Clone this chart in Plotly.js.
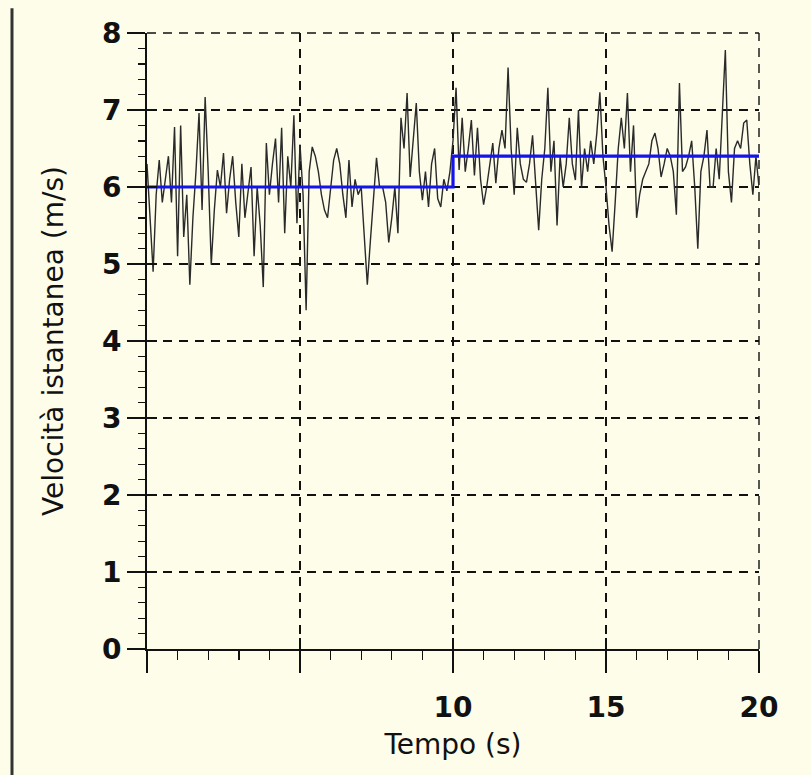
<!DOCTYPE html>
<html>
<head>
<meta charset="utf-8">
<script src="https://cdn.plot.ly/plotly-3.0.1.min.js"></script>
<style>html,body{margin:0;padding:0;background:#fdfdea;}</style>
</head>
<body>
<div id="chart" style="width:811px;height:775px;"></div>
<script>
// Instantaneous speed sampled every 0.1 s from t = 0 to t = 20 s
const sampleStart = 0;
const sampleStep = 0.1;
const speed = [
  6.3, 5.6, 4.9, 5.9, 6.35, 5.8, 6.1, 6.4, 5.8, 6.78,
  5.1, 6.8, 5.35, 5.9, 4.73, 5.6, 6.2, 6.96, 5.7, 7.17,
  6.2, 4.99, 5.7, 6.22, 6.0, 6.44, 5.66, 6.1, 6.4, 5.8,
  5.35, 6.3, 5.6, 5.9, 6.26, 5.1, 6.0, 5.5, 4.7, 6.57,
  5.9, 6.3, 6.63, 5.8, 6.77, 5.4, 6.4, 6.0, 6.93, 5.53,
  6.55, 5.9, 4.4, 6.2, 6.52, 6.4, 6.2, 5.9, 5.7, 5.6,
  6.0, 6.35, 6.5, 6.3, 5.9, 5.6, 6.35, 5.74, 6.1, 5.9,
  6.0, 5.4, 4.73, 5.3, 5.9, 6.38, 6.0, 6.0, 5.8, 5.28,
  5.6, 6.0, 5.4, 6.9, 6.5, 7.22, 6.13, 6.6, 7.09, 6.2,
  5.83, 6.2, 5.74, 6.3, 6.5, 5.85, 5.74, 6.1, 5.95, 6.2,
  6.6, 7.29, 6.22, 6.9, 6.2, 6.5, 6.87, 6.15, 6.77, 6.1,
  5.77, 6.0, 6.3, 6.57, 6.05, 6.5, 6.74, 6.5, 7.55, 6.5,
  5.9, 6.77, 6.3, 6.1, 6.06, 6.3, 6.67, 6.0, 5.44, 6.1,
  6.5, 7.29, 6.2, 6.6, 5.5, 6.4, 6.0, 6.3, 6.9, 6.3,
  6.09, 7.0, 5.99, 6.5, 6.2, 6.6, 6.3, 6.7, 7.23, 6.4,
  6.0, 5.5, 5.16, 5.8, 6.5, 6.9, 6.5, 7.22, 6.2, 6.8,
  5.6, 5.9, 6.1, 6.2, 6.3, 6.6, 6.7, 6.5, 6.13, 6.3,
  6.5, 6.4, 6.2, 5.64, 7.35, 6.2, 6.26, 6.4, 6.6, 6.0,
  5.2, 6.2, 6.4, 6.74, 6.0, 6.0, 6.5, 6.1, 6.9, 7.78,
  6.2, 5.8, 6.5, 6.6, 6.5, 6.83, 6.87, 6.3, 5.9, 6.4,
  6.0
];
// Mean speed in each interval (step)
const meanTimes = [0, 10, 20];
const meanSpeed = [6.0, 6.4, 6.4];

const xTickVals = [0, 5, 10, 15, 20];
const xTickText = ['', '', '10', '15', '20'];
const yTickVals = [0, 1, 2, 3, 4, 5, 6, 7, 8];
const yTickText = ['0', '1', '2', '3', '4', '5', '6', '7', '8'];

const bg = '#fdfdea';
const labelFont = {family: 'DejaVu Sans, sans-serif', size: 28, color: '#111', weight: 'bold'};
const titleFont = {family: 'DejaVu Sans, sans-serif', size: 28, color: '#111'};
const gridDash = '9px,7px';

const traces = [
  {
    type: 'scatter', mode: 'lines',
    x0: sampleStart, dx: sampleStep, y: speed,
    line: {color: '#2a2a2a', width: 1.4},
    hoverinfo: 'skip', showlegend: false
  },
  {
    type: 'scatter', mode: 'lines',
    x: meanTimes, y: meanSpeed,
    line: {color: '#1414ee', width: 3.2, shape: 'hv'},
    hoverinfo: 'skip', showlegend: false
  },
  {
    type: 'scatter', mode: 'lines', x: [null], y: [null],
    xaxis: 'x2', yaxis: 'y2', hoverinfo: 'skip', showlegend: false
  }
];

const layout = {
  width: 811, height: 775,
  margin: {l: 147, r: 52, t: 33, b: 126, pad: 0},
  paper_bgcolor: bg, plot_bgcolor: bg,
  showlegend: false,
  xaxis: {
    range: [0, 20], fixedrange: true,
    tickvals: xTickVals, ticktext: xTickText,
    ticks: 'outside', ticklen: 22, tickwidth: 1.6, tickcolor: '#111',
    ticklabelstandoff: 10,
    tickfont: labelFont,
    showline: true, linecolor: '#111', linewidth: 2,
    showgrid: true, gridcolor: '#111', gridwidth: 1.4, griddash: gridDash,
    zeroline: false,
    minor: {dtick: 1, ticks: 'outside', ticklen: 9, tickwidth: 1.4, tickcolor: '#111', showgrid: false},
    title: {text: 'Tempo (s)', font: titleFont, standoff: 12},
    automargin: false
  },
  yaxis: {
    range: [0, 8], fixedrange: true,
    tickvals: yTickVals, ticktext: yTickText,
    ticks: 'outside', ticklen: 18, tickwidth: 1.6, tickcolor: '#111',
    ticklabelstandoff: 0,
    tickfont: labelFont,
    showline: true, linecolor: '#111', linewidth: 2,
    showgrid: true, gridcolor: '#111', gridwidth: 1.4, griddash: gridDash,
    zeroline: false,
    minor: {dtick: 0.2, ticks: 'outside', ticklen: 7, tickwidth: 1.4, tickcolor: '#111', showgrid: false},
    title: {text: 'Velocità istantanea (m/s)', font: titleFont, standoff: 30},
    automargin: false
  },
  xaxis2: {
    overlaying: 'x', anchor: 'y2', range: [0, 20], fixedrange: true,
    tickvals: xTickVals, ticks: 'inside', ticklen: 11, tickwidth: 1.6, tickcolor: '#111',
    showticklabels: false, showgrid: false, showline: false, zeroline: false
  },
  yaxis2: {
    overlaying: 'y', anchor: 'x2', range: [0, 8], fixedrange: true,
    tickvals: yTickVals, ticks: 'inside', ticklen: 10, tickwidth: 1.6, tickcolor: '#111',
    showticklabels: false, showgrid: false, showline: false, zeroline: false
  },
  shapes: [
    // frame edges drawn as dashed grid lines (top and right)
    {type: 'line', xref: 'paper', yref: 'paper', x0: 0, x1: 1, y0: 1, y1: 1,
     line: {color: '#111', width: 1.4, dash: gridDash}, layer: 'below'},
    {type: 'line', xref: 'paper', yref: 'paper', x0: 1, x1: 1, y0: 0, y1: 1,
     line: {color: '#111', width: 1.4, dash: gridDash}, layer: 'below'},
    // page border at left
    {type: 'line', xref: 'paper', yref: 'paper',
     x0: -0.2206, x1: -0.2206, y0: 1.04, y1: -0.21,
     line: {color: '#333', width: 3}}
  ]
};

Plotly.newPlot('chart', traces, layout, {displayModeBar: false, staticPlot: true});
</script>
</body>
</html>
